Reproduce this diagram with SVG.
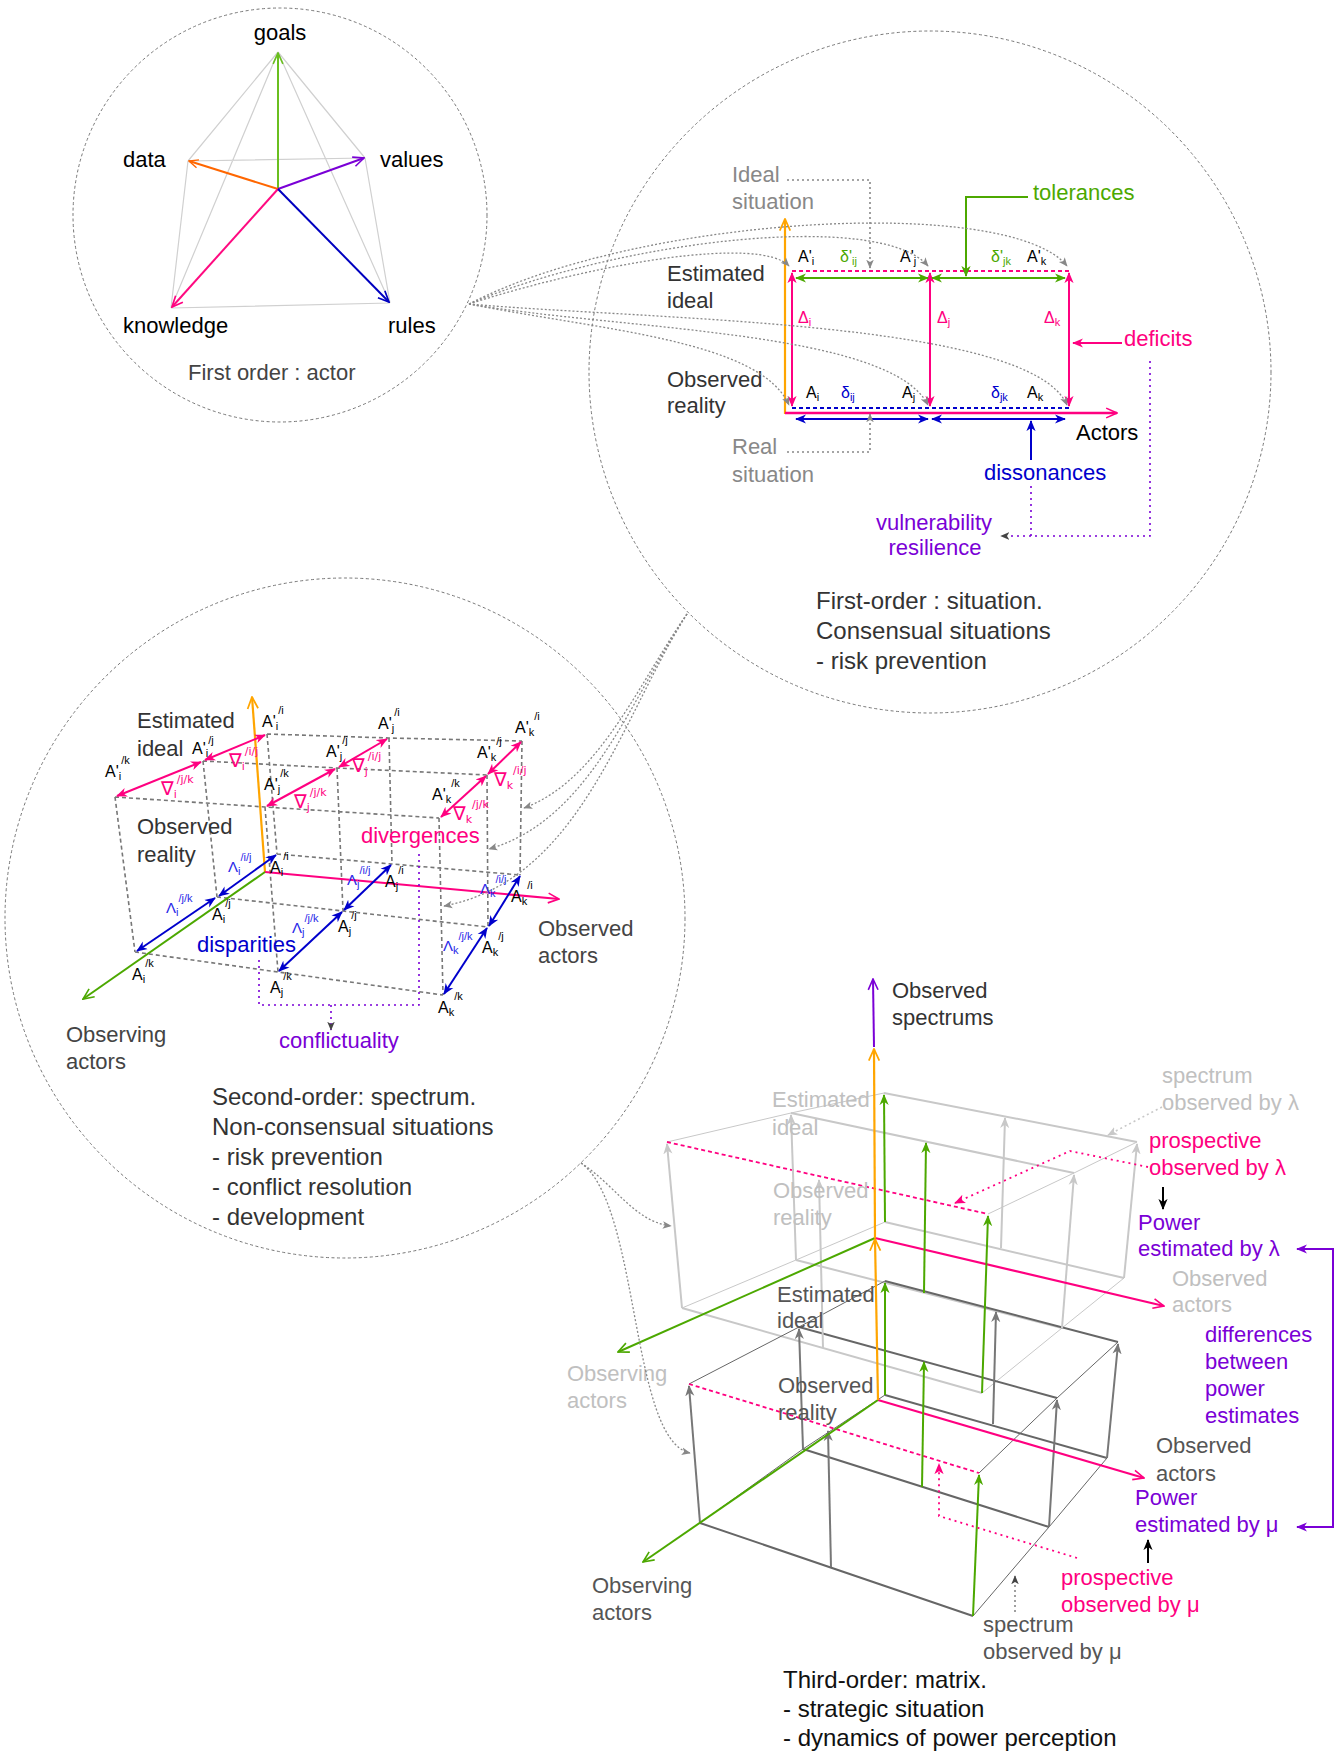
<svg xmlns="http://www.w3.org/2000/svg" width="1343" height="1756" viewBox="0 0 1343 1756">
<defs>
<style>
text{font-family:"Liberation Sans",Arial,Helvetica,sans-serif}
.t22{font-size:22px}
.t24{font-size:24px}
.lb{font-size:16px}
.gl{font-size:15px}
.nb{font-size:19px;font-family:"DejaVu Sans","Liberation Sans",sans-serif}
.s{font-size:11px}
.circ{fill:none;stroke:#777;stroke-width:1;stroke-dasharray:3 2.5}
.conn{fill:none;stroke:#888;stroke-width:1.3;stroke-dasharray:2 2}
.grid{fill:none;stroke:#777;stroke-width:1.6;stroke-dasharray:4 3}
.pdot{fill:none;stroke:#7a00d6;stroke-width:1.6;stroke-dasharray:2 4}
.kdot{fill:none;stroke:#ff0080;stroke-width:1.8;stroke-dasharray:2 4}
.gdot{fill:none;stroke:#888;stroke-width:1.6;stroke-dasharray:2 3}
</style>
<marker id="oPink" viewBox="0 0 12 12" refX="11" refY="6" markerWidth="13" markerHeight="13" markerUnits="userSpaceOnUse" orient="auto-start-reverse"><path d="M1,1.5 L11,6 L1,10.5" fill="none" stroke="#ff0080" stroke-width="1.5"/></marker>
<marker id="oGreen" viewBox="0 0 12 12" refX="11" refY="6" markerWidth="13" markerHeight="13" markerUnits="userSpaceOnUse" orient="auto-start-reverse"><path d="M1,1.5 L11,6 L1,10.5" fill="none" stroke="#4ca800" stroke-width="1.5"/></marker>
<marker id="oGoal" viewBox="0 0 12 12" refX="11" refY="6" markerWidth="13" markerHeight="13" markerUnits="userSpaceOnUse" orient="auto-start-reverse"><path d="M1,1.5 L11,6 L1,10.5" fill="none" stroke="#6abf1f" stroke-width="1.5"/></marker>
<marker id="oOrange" viewBox="0 0 12 12" refX="11" refY="6" markerWidth="14" markerHeight="14" markerUnits="userSpaceOnUse" orient="auto-start-reverse"><path d="M1,1.5 L11,6 L1,10.5" fill="none" stroke="#ffa500" stroke-width="1.5"/></marker>
<marker id="oData" viewBox="0 0 12 12" refX="11" refY="6" markerWidth="11" markerHeight="11" markerUnits="userSpaceOnUse" orient="auto-start-reverse"><path d="M1,1.5 L11,6 L1,10.5" fill="none" stroke="#ff6600" stroke-width="1.5"/></marker>
<marker id="oPurple" viewBox="0 0 12 12" refX="11" refY="6" markerWidth="13" markerHeight="13" markerUnits="userSpaceOnUse" orient="auto-start-reverse"><path d="M1,1.5 L11,6 L1,10.5" fill="none" stroke="#7a00d6" stroke-width="1.5"/></marker>
<marker id="oBlue" viewBox="0 0 12 12" refX="11" refY="6" markerWidth="13" markerHeight="13" markerUnits="userSpaceOnUse" orient="auto-start-reverse"><path d="M1,1.5 L11,6 L1,10.5" fill="none" stroke="#0000c0" stroke-width="1.5"/></marker>
<marker id="cPink" viewBox="0 0 12 12" refX="11" refY="6" markerWidth="11" markerHeight="11" markerUnits="userSpaceOnUse" orient="auto-start-reverse"><path d="M0,1 L12,6 L0,11 L3.5,6 Z" fill="#ff0080"/></marker>
<marker id="cGreen" viewBox="0 0 12 12" refX="11" refY="6" markerWidth="11" markerHeight="11" markerUnits="userSpaceOnUse" orient="auto-start-reverse"><path d="M0,1 L12,6 L0,11 L3.5,6 Z" fill="#4ca800"/></marker>
<marker id="cBlue" viewBox="0 0 12 12" refX="11" refY="6" markerWidth="11" markerHeight="11" markerUnits="userSpaceOnUse" orient="auto-start-reverse"><path d="M0,1 L12,6 L0,11 L3.5,6 Z" fill="#0000cc"/></marker>
<marker id="cPurple" viewBox="0 0 12 12" refX="11" refY="6" markerWidth="11" markerHeight="11" markerUnits="userSpaceOnUse" orient="auto-start-reverse"><path d="M0,1 L12,6 L0,11 L3.5,6 Z" fill="#7a00d6"/></marker>
<marker id="cLG" viewBox="0 0 12 12" refX="11" refY="6" markerWidth="11" markerHeight="11" markerUnits="userSpaceOnUse" orient="auto-start-reverse"><path d="M0,1 L12,6 L0,11 L3.5,6 Z" fill="#c8c8c8"/></marker>
<marker id="cDG" viewBox="0 0 12 12" refX="11" refY="6" markerWidth="11" markerHeight="11" markerUnits="userSpaceOnUse" orient="auto-start-reverse"><path d="M0,1 L12,6 L0,11 L3.5,6 Z" fill="#777"/></marker>
<marker id="cBlack" viewBox="0 0 12 12" refX="11" refY="6" markerWidth="11" markerHeight="11" markerUnits="userSpaceOnUse" orient="auto-start-reverse"><path d="M0,1 L12,6 L0,11 L3.5,6 Z" fill="#000"/></marker>
<marker id="sG" viewBox="0 0 12 12" refX="11" refY="6" markerWidth="9" markerHeight="9" markerUnits="userSpaceOnUse" orient="auto"><path d="M0,1 L12,6 L0,11 L3,6 Z" fill="#888"/></marker>
<marker id="sD" viewBox="0 0 12 12" refX="11" refY="6" markerWidth="9" markerHeight="9" markerUnits="userSpaceOnUse" orient="auto"><path d="M0,1 L12,6 L0,11 L3,6 Z" fill="#444"/></marker>
<marker id="sL" viewBox="0 0 12 12" refX="11" refY="6" markerWidth="10" markerHeight="10" markerUnits="userSpaceOnUse" orient="auto"><path d="M0,1 L12,6 L0,11 L3,6 Z" fill="#c8c8c8"/></marker>
<marker id="sP" viewBox="0 0 12 12" refX="11" refY="6" markerWidth="11" markerHeight="11" markerUnits="userSpaceOnUse" orient="auto"><path d="M0,1 L12,6 L0,11 L3,6 Z" fill="#ff0080"/></marker>
</defs>

<!-- FIRST ORDER : ACTOR -->
<g id="actor">
<circle cx="280" cy="215" r="207" class="circ"/>
<path d="M278,52 L188,161 M278,52 L365,158 M278,52 L171,308 M278,52 L390,303 M188,161 L365,158 M188,161 L171,308 M365,158 L390,303 M171,308 L390,303" fill="none" stroke="#d0d0d0" stroke-width="1.2"/>
<line x1="278" y1="189" x2="278" y2="53" stroke="#6abf1f" stroke-width="2" marker-end="url(#oGoal)"/>
<line x1="278" y1="189" x2="189" y2="161" stroke="#ff6600" stroke-width="2" marker-end="url(#oData)"/>
<line x1="278" y1="189" x2="364" y2="158" stroke="#7a00d6" stroke-width="2" marker-end="url(#oPurple)"/>
<line x1="278" y1="189" x2="172" y2="307" stroke="#ff0a80" stroke-width="2" marker-end="url(#oPink)"/>
<line x1="278" y1="189" x2="389" y2="302" stroke="#0000c0" stroke-width="2" marker-end="url(#oBlue)"/>
<text x="280" y="40" class="t22" text-anchor="middle">goals</text>
<text x="123" y="167" class="t22">data</text>
<text x="380" y="167" class="t22">values</text>
<text x="123" y="333" class="t22">knowledge</text>
<text x="388" y="333" class="t22">rules</text>
<text x="188" y="380" class="t22" fill="#444">First order : actor</text>
</g>

<!-- FIRST ORDER : SITUATION -->
<g id="situation">
<circle cx="930" cy="372" r="341" class="circ"/>
<line x1="785" y1="414" x2="785" y2="219" stroke="#ffa500" stroke-width="2.2" marker-end="url(#oOrange)"/>
<line x1="785" y1="413" x2="1117" y2="413" stroke="#ff0080" stroke-width="2.5" marker-end="url(#oPink)"/>
<line x1="792" y1="271" x2="1070" y2="271" stroke="#ff0080" stroke-width="2" stroke-dasharray="4 3"/>
<line x1="792" y1="408" x2="1070" y2="408" stroke="#0000cc" stroke-width="2" stroke-dasharray="4 3"/>
<g stroke="#ff0080" stroke-width="2" marker-start="url(#cPink)" marker-end="url(#cPink)">
<line x1="792" y1="273" x2="792" y2="406"/>
<line x1="930" y1="273" x2="930" y2="406"/>
<line x1="1069" y1="273" x2="1069" y2="406"/>
</g>
<g stroke="#4ca800" stroke-width="2" marker-start="url(#cGreen)" marker-end="url(#cGreen)">
<line x1="796" y1="278" x2="928" y2="278"/>
<line x1="932" y1="278" x2="1065" y2="278"/>
</g>
<g stroke="#0000cc" stroke-width="2" marker-start="url(#cBlue)" marker-end="url(#cBlue)">
<line x1="796" y1="419" x2="928" y2="419"/>
<line x1="932" y1="419" x2="1065" y2="419"/>
</g>
<polyline points="787,180 870,180 870,268" class="gdot" marker-end="url(#sG)"/>
<polyline points="787,452 870,452 870,414" class="gdot" marker-end="url(#sG)"/>
<polyline points="1028,197 966,197 966,276" fill="none" stroke="#4ca800" stroke-width="2" marker-end="url(#cGreen)"/>
<line x1="1122" y1="343" x2="1073" y2="343" stroke="#ff0080" stroke-width="2" marker-end="url(#cPink)"/>
<line x1="1031" y1="460" x2="1031" y2="421" stroke="#0000cc" stroke-width="2" marker-end="url(#cBlue)"/>
<polyline points="1150,361 1150,536 1001,536" class="pdot" marker-end="url(#sD)"/>
<line x1="1031" y1="486" x2="1031" y2="536" class="pdot"/>
<text x="798" y="262" class="lb">A'<tspan class="s" dy="3">i</tspan></text>
<text x="900" y="262" class="lb">A'<tspan class="s" dy="3">j</tspan></text>
<text x="1027" y="262" class="lb">A'<tspan class="s" dy="3">k</tspan></text>
<text x="840" y="262" class="lb" fill="#4ca800">δ'<tspan class="s" dy="3">ij</tspan></text>
<text x="991" y="262" class="lb" fill="#4ca800">δ'<tspan class="s" dy="3">jk</tspan></text>
<text x="806" y="398" class="lb">A<tspan class="s" dy="3">i</tspan></text>
<text x="902" y="398" class="lb">A<tspan class="s" dy="3">j</tspan></text>
<text x="1027" y="398" class="lb">A<tspan class="s" dy="3">k</tspan></text>
<text x="841" y="398" class="lb" fill="#0000cc">δ<tspan class="s" dy="3">ij</tspan></text>
<text x="991" y="398" class="lb" fill="#0000cc">δ<tspan class="s" dy="3">jk</tspan></text>
<text x="798" y="323" class="lb" fill="#ff0080">Δ<tspan class="s" dy="3">i</tspan></text>
<text x="937" y="323" class="lb" fill="#ff0080">Δ<tspan class="s" dy="3">j</tspan></text>
<text x="1044" y="323" class="lb" fill="#ff0080">Δ<tspan class="s" dy="3">k</tspan></text>
<text class="t22" fill="#888"><tspan x="732" y="182">Ideal</tspan><tspan x="732" y="209">situation</tspan></text>
<text class="t22" fill="#888"><tspan x="732" y="454">Real</tspan><tspan x="732" y="482">situation</tspan></text>
<text class="t22" fill="#333"><tspan x="667" y="281">Estimated</tspan><tspan x="667" y="308">ideal</tspan></text>
<text class="t22" fill="#333"><tspan x="667" y="387">Observed</tspan><tspan x="667" y="413">reality</tspan></text>
<text x="1033" y="200" class="t22" fill="#4ca800">tolerances</text>
<text x="1124" y="346" class="t22" fill="#ff0080">deficits</text>
<text x="1076" y="440" class="t22">Actors</text>
<text x="984" y="480" class="t22" fill="#0000cc">dissonances</text>
<text class="t22" fill="#7a00d6" text-anchor="middle"><tspan x="934" y="530">vulnerability</tspan><tspan x="935" y="555">resilience</tspan></text>
<text class="t24" fill="#333"><tspan x="816" y="609">First-order : situation.</tspan><tspan x="816" y="639">Consensual situations</tspan><tspan x="816" y="669">- risk prevention</tspan></text>
</g>

<!-- SECOND ORDER : SPECTRUM -->
<g id="spectrum">
<circle cx="345" cy="918" r="340" class="circ"/>
<path class="grid" d="M267,734 L389,738 L522,741 M203,761 L337,768 L487,775 M115,797 L265,807 L439,818 M277,854 L392,864 L520,875 M217,897 L343,911 L488,927 M135,952 L278,972 L443,995 M267,734 L277,854 M203,761 L217,897 M115,797 L135,952 M389,738 L392,864 M337,768 L343,911 M265,807 L278,972 M522,741 L520,875 M487,775 L488,927 M439,818 L443,995"/>
<line x1="265" y1="872" x2="252" y2="697" stroke="#ffa500" stroke-width="2.2" marker-end="url(#oOrange)"/>
<line x1="265" y1="872" x2="559" y2="899" stroke="#ff0080" stroke-width="2.2" marker-end="url(#oPink)"/>
<line x1="265" y1="872" x2="83" y2="999" stroke="#4ca800" stroke-width="2" marker-end="url(#oGreen)"/>
<g stroke="#ff0080" stroke-width="2" marker-start="url(#cPink)" marker-end="url(#cPink)">
<line x1="265" y1="735" x2="205" y2="760"/>
<line x1="201" y1="762" x2="117" y2="796"/>
<line x1="387" y1="739" x2="339" y2="767"/>
<line x1="335" y1="769" x2="267" y2="806"/>
<line x1="521" y1="742" x2="488" y2="774"/>
<line x1="486" y1="776" x2="441" y2="817"/>
</g>
<g stroke="#0000cc" stroke-width="2" marker-start="url(#cBlue)" marker-end="url(#cBlue)">
<line x1="276" y1="855" x2="219" y2="896"/>
<line x1="215" y1="898" x2="137" y2="951"/>
<line x1="391" y1="865" x2="344" y2="910"/>
<line x1="342" y1="912" x2="279" y2="971"/>
<line x1="520" y1="876" x2="489" y2="926"/>
<line x1="487" y1="928" x2="444" y2="994"/>
</g>
<polyline points="259,960 259,1005 419,1005 419,850" class="pdot"/>
<line x1="331" y1="1005" x2="331" y2="1030" class="pdot" marker-end="url(#sD)"/>
<g class="lb">
<text x="262" y="727">A'<tspan class="s" dy="3">i</tspan><tspan class="s" dy="-16">/i</tspan></text>
<text x="192" y="754">A'<tspan class="s" dy="3">i</tspan><tspan class="s" dy="-13">/j</tspan></text>
<text x="105" y="777">A'<tspan class="s" dy="3">i</tspan><tspan class="s" dy="-16">/k</tspan></text>
<text x="378" y="729">A'<tspan class="s" dy="3">j</tspan><tspan class="s" dy="-16">/i</tspan></text>
<text x="326" y="757">A'<tspan class="s" dy="3">j</tspan><tspan class="s" dy="-16">/j</tspan></text>
<text x="264" y="790">A'<tspan class="s" dy="3">j</tspan><tspan class="s" dy="-16">/k</tspan></text>
<text x="515" y="733">A'<tspan class="s" dy="3">k</tspan><tspan class="s" dy="-16">/i</tspan></text>
<text x="477" y="758">A'<tspan class="s" dy="3">k</tspan><tspan class="s" dy="-16">/j</tspan></text>
<text x="432" y="800">A'<tspan class="s" dy="3">k</tspan><tspan class="s" dy="-16">/k</tspan></text>
<text x="270" y="873">A<tspan class="s" dy="3">i</tspan><tspan class="s" dy="-16">/i</tspan></text>
<text x="212" y="920">A<tspan class="s" dy="3">i</tspan><tspan class="s" dy="-16">/j</tspan></text>
<text x="132" y="980">A<tspan class="s" dy="3">i</tspan><tspan class="s" dy="-16">/k</tspan></text>
<text x="385" y="887">A<tspan class="s" dy="3">j</tspan><tspan class="s" dy="-16">/i</tspan></text>
<text x="338" y="932">A<tspan class="s" dy="3">j</tspan><tspan class="s" dy="-16">/j</tspan></text>
<text x="270" y="993">A<tspan class="s" dy="3">j</tspan><tspan class="s" dy="-16">/k</tspan></text>
<text x="511" y="902">A<tspan class="s" dy="3">k</tspan><tspan class="s" dy="-16">/i</tspan></text>
<text x="482" y="953">A<tspan class="s" dy="3">k</tspan><tspan class="s" dy="-16">/j</tspan></text>
<text x="438" y="1013">A<tspan class="s" dy="3">k</tspan><tspan class="s" dy="-16">/k</tspan></text>
</g>
<g fill="#ff0080">
<text x="229" y="767" class="nb">∇<tspan class="s" dy="3">i</tspan><tspan class="s" dy="-15">/i/j</tspan></text>
<text x="161" y="795" class="nb">∇<tspan class="s" dy="3">i</tspan><tspan class="s" dy="-15">/j/k</tspan></text>
<text x="352" y="772" class="nb">∇<tspan class="s" dy="3">j</tspan><tspan class="s" dy="-15">/i/j</tspan></text>
<text x="294" y="808" class="nb">∇<tspan class="s" dy="3">j</tspan><tspan class="s" dy="-15">/j/k</tspan></text>
<text x="494" y="786" class="nb">∇<tspan class="s" dy="3">k</tspan><tspan class="s" dy="-15">/i/j</tspan></text>
<text x="453" y="820" class="nb">∇<tspan class="s" dy="3">k</tspan><tspan class="s" dy="-15">/j/k</tspan></text>
</g>
<g class="gl" fill="#2a2ae8">
<text x="228" y="872">Λ<tspan class="s" dy="3">i</tspan><tspan class="s" dy="-14">/i/j</tspan></text>
<text x="166" y="913">Λ<tspan class="s" dy="3">i</tspan><tspan class="s" dy="-14">/j/k</tspan></text>
<text x="347" y="885">Λ<tspan class="s" dy="3">j</tspan><tspan class="s" dy="-14">/i/j</tspan></text>
<text x="292" y="933">Λ<tspan class="s" dy="3">j</tspan><tspan class="s" dy="-14">/j/k</tspan></text>
<text x="480" y="894">Λ<tspan class="s" dy="3">k</tspan><tspan class="s" dy="-14">/i/j</tspan></text>
<text x="443" y="951">Λ<tspan class="s" dy="3">k</tspan><tspan class="s" dy="-14">/j/k</tspan></text>
</g>
<text class="t22" fill="#333"><tspan x="137" y="728">Estimated</tspan><tspan x="137" y="756">ideal</tspan></text>
<text class="t22" fill="#333"><tspan x="137" y="834">Observed</tspan><tspan x="137" y="862">reality</tspan></text>
<text x="361" y="843" class="t22" fill="#ff0080">divergences</text>
<text x="197" y="952" class="t22" fill="#0000cc">disparities</text>
<text x="279" y="1048" class="t22" fill="#7a00d6">conflictuality</text>
<text class="t22" fill="#444"><tspan x="538" y="936">Observed</tspan><tspan x="538" y="963">actors</tspan></text>
<text class="t22" fill="#444"><tspan x="66" y="1042">Observing</tspan><tspan x="66" y="1069">actors</tspan></text>
<text class="t24" fill="#333"><tspan x="212" y="1105">Second-order: spectrum.</tspan><tspan x="212" y="1135">Non-consensual situations</tspan><tspan x="212" y="1165">- risk prevention</tspan><tspan x="212" y="1195">- conflict resolution</tspan><tspan x="212" y="1225">- development</tspan></text>
</g>

<!-- THIRD ORDER : MATRIX -->
<g id="matrix">
<g fill="none" stroke="#c8c8c8">
<path stroke-width="2" d="M884,1093 L1137,1142 M791,1113 L1074,1173 M885,1222 L1124,1278 M796,1260 L1062,1328 M682,1308 L982,1393"/>
<path stroke-width="1" d="M884,1093 L791,1113 L667,1142 M1137,1142 L1074,1173 L988,1214 M1124,1278 L1062,1328 L982,1393 M885,1222 L796,1260 L682,1308"/>
</g>
<g fill="none" stroke="#666">
<path stroke-width="2" d="M885,1281 L1118,1342 M799,1327 L1057,1398 M885,1395 L1107,1458 M803,1449 L1049,1527 M700,1523 L973,1616"/>
<path stroke-width="1" d="M885,1281 L799,1327 L689,1384 M1118,1342 L1057,1398 L979,1473 M1107,1458 L1049,1527 L973,1616 M885,1395 L803,1449 L700,1523"/>
</g>
<line x1="667" y1="1142" x2="988" y2="1214" stroke="#ff0080" stroke-width="1.8" stroke-dasharray="4 3"/>
<line x1="689" y1="1384" x2="979" y2="1473" stroke="#ff0080" stroke-width="1.8" stroke-dasharray="4 3"/>
<g stroke="#c8c8c8" stroke-width="2" marker-end="url(#cLG)">
<line x1="682" y1="1308" x2="667" y2="1144"/>
<line x1="796" y1="1260" x2="791" y2="1115"/>
<line x1="823" y1="1348" x2="819" y2="1180"/>
<line x1="1001" y1="1248" x2="1005" y2="1118"/>
<line x1="1124" y1="1278" x2="1137" y2="1144"/>
<line x1="1062" y1="1328" x2="1074" y2="1175"/>
</g>
<g stroke="#777" stroke-width="2" marker-end="url(#cDG)">
<line x1="700" y1="1523" x2="689" y2="1386"/>
<line x1="803" y1="1449" x2="799" y2="1329"/>
<line x1="831" y1="1567" x2="828" y2="1431"/>
<line x1="993" y1="1424" x2="996" y2="1312"/>
<line x1="1107" y1="1458" x2="1118" y2="1344"/>
<line x1="1049" y1="1527" x2="1057" y2="1400"/>
</g>
<line x1="875" y1="1238" x2="1164" y2="1306" stroke="#ff0080" stroke-width="2.2" marker-end="url(#oPink)"/>
<line x1="875" y1="1238" x2="618" y2="1352" stroke="#4ca800" stroke-width="2" marker-end="url(#oGreen)"/>
<line x1="878" y1="1400" x2="1144" y2="1478" stroke="#ff0080" stroke-width="2.2" marker-end="url(#oPink)"/>
<line x1="878" y1="1400" x2="643" y2="1562" stroke="#4ca800" stroke-width="2" marker-end="url(#oGreen)"/>
<line x1="878" y1="1400" x2="875" y2="1239" stroke="#ffa500" stroke-width="2.2" marker-end="url(#oOrange)"/>
<line x1="875" y1="1238" x2="874" y2="1049" stroke="#ffa500" stroke-width="2.2" marker-end="url(#oOrange)"/>
<line x1="874" y1="1047" x2="873" y2="979" stroke="#7a00d6" stroke-width="2" marker-end="url(#oPurple)"/>
<g stroke="#4ca800" stroke-width="2" marker-end="url(#cGreen)">
<line x1="885" y1="1222" x2="884" y2="1095"/>
<line x1="924" y1="1293" x2="926" y2="1143"/>
<line x1="982" y1="1393" x2="988" y2="1216"/>
<line x1="885" y1="1395" x2="885" y2="1283"/>
<line x1="922" y1="1487" x2="924" y2="1362"/>
<line x1="973" y1="1616" x2="979" y2="1475"/>
</g>
<polyline points="1148,1167 1070,1151 955,1203" class="kdot" marker-end="url(#sP)"/>
<polyline points="1077,1558 939,1516 939,1464" class="kdot" marker-end="url(#sP)"/>
<line x1="1162" y1="1107" x2="1108" y2="1135" stroke="#c8c8c8" stroke-width="1.6" stroke-dasharray="2 3" marker-end="url(#sL)"/>
<line x1="1015" y1="1612" x2="1015" y2="1576" class="gdot" stroke="#666" marker-end="url(#sD)"/>
<line x1="1163" y1="1187" x2="1163" y2="1209" stroke="#000" stroke-width="2" marker-end="url(#cBlack)"/>
<line x1="1148" y1="1563" x2="1148" y2="1540" stroke="#000" stroke-width="2" marker-end="url(#cBlack)"/>
<path d="M1297,1249 L1333,1249 L1333,1527 L1297,1527" fill="none" stroke="#7a00d6" stroke-width="2" marker-start="url(#cPurple)" marker-end="url(#cPurple)"/>
<text class="t22" fill="#333"><tspan x="892" y="998">Observed</tspan><tspan x="892" y="1025">spectrums</tspan></text>
<text class="t22" fill="#c0c0c0"><tspan x="772" y="1107">Estimated</tspan><tspan x="772" y="1135">ideal</tspan></text>
<text class="t22" fill="#c0c0c0"><tspan x="773" y="1198">Observed</tspan><tspan x="773" y="1225">reality</tspan></text>
<text class="t22" fill="#555"><tspan x="777" y="1302">Estimated</tspan><tspan x="777" y="1328">ideal</tspan></text>
<text class="t22" fill="#555"><tspan x="778" y="1393">Observed</tspan><tspan x="778" y="1420">reality</tspan></text>
<text class="t22" fill="#c0c0c0"><tspan x="567" y="1381">Observing</tspan><tspan x="567" y="1408">actors</tspan></text>
<text class="t22" fill="#555"><tspan x="592" y="1593">Observing</tspan><tspan x="592" y="1620">actors</tspan></text>
<text class="t22" fill="#c0c0c0"><tspan x="1162" y="1083">spectrum</tspan><tspan x="1162" y="1110">observed by λ</tspan></text>
<text class="t22" fill="#ff0080"><tspan x="1149" y="1148">prospective</tspan><tspan x="1149" y="1175">observed by λ</tspan></text>
<text class="t22" fill="#7a00d6"><tspan x="1138" y="1230">Power</tspan><tspan x="1138" y="1256">estimated by λ</tspan></text>
<text class="t22" fill="#c0c0c0"><tspan x="1172" y="1286">Observed</tspan><tspan x="1172" y="1312">actors</tspan></text>
<text class="t22" fill="#7a00d6"><tspan x="1205" y="1342">differences</tspan><tspan x="1205" y="1369">between</tspan><tspan x="1205" y="1396">power</tspan><tspan x="1205" y="1423">estimates</tspan></text>
<text class="t22" fill="#555"><tspan x="1156" y="1453">Observed</tspan><tspan x="1156" y="1481">actors</tspan></text>
<text class="t22" fill="#7a00d6"><tspan x="1135" y="1505">Power</tspan><tspan x="1135" y="1532">estimated by μ</tspan></text>
<text class="t22" fill="#ff0080"><tspan x="1061" y="1585">prospective</tspan><tspan x="1061" y="1612">observed by μ</tspan></text>
<text class="t22" fill="#555"><tspan x="983" y="1632">spectrum</tspan><tspan x="983" y="1659">observed by μ</tspan></text>
<text class="t24" fill="#111"><tspan x="783" y="1688">Third-order: matrix.</tspan><tspan x="783" y="1717">- strategic situation</tspan><tspan x="783" y="1746">- dynamics of power perception</tspan></text>
</g>

<!-- CONNECTORS between orders -->
<g id="connectors" class="conn">
<path d="M469,304 C600,262 760,236 789,266" marker-end="url(#sG)"/>
<path d="M469,304 C620,240 880,210 928,266" marker-end="url(#sG)"/>
<path d="M469,304 C640,215 1010,195 1067,266" marker-end="url(#sG)"/>
<path d="M469,304 C600,330 760,340 789,405" marker-end="url(#sG)"/>
<path d="M469,304 C620,330 890,330 928,405" marker-end="url(#sG)"/>
<path d="M469,304 C650,320 1030,320 1067,405" marker-end="url(#sG)"/>
<path d="M687,614 C640,680 600,780 524,808" marker-end="url(#sG)"/>
<path d="M687,614 C630,700 590,820 489,849" marker-end="url(#sG)"/>
<path d="M687,614 C620,720 580,880 444,906" marker-end="url(#sG)"/>
<path d="M581,1163 C615,1185 635,1222 671,1226" marker-end="url(#sG)"/>
<path d="M581,1163 C640,1205 630,1440 690,1453" marker-end="url(#sG)"/>
</g>
</svg>
